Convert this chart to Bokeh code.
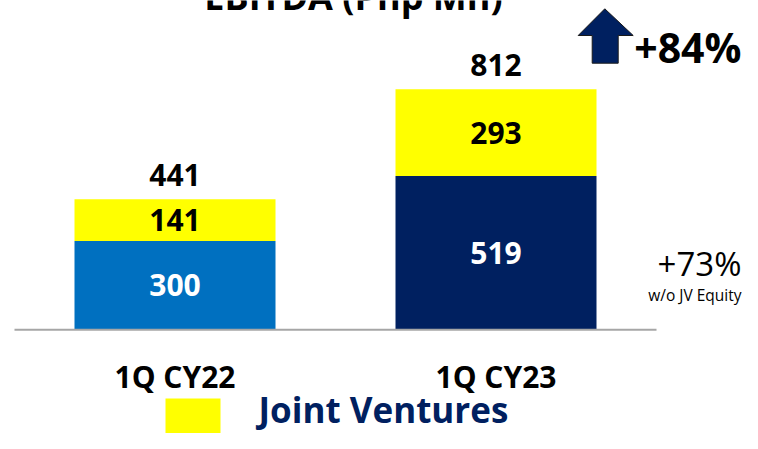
from bokeh.plotting import figure
from bokeh.models import Range1d
from bokeh.embed import file_html
from bokeh.resources import INLINE
from bokeh.core.properties import value

# ---- data ----
categories = ["1Q CY22", "1Q CY23"]
own_ebitda = [300, 519]
jv_equity = [141, 293]
totals = [441, 812]
own_colors = ["#0070C0", "#002060"]
jv_color = "#FFFF00"
title_text = "EBITDA (Php Mn)"
growth_total = "+84%"
growth_ex_jv = "+73%"
growth_ex_jv_note = "w/o JV Equity"
legend_label = "Joint Ventures"

# ---- geometry (pixel layout of the canvas) ----
W, H = 742, 433
X_PX = 321.0      # pixels per category step
X0_PX = 174.5     # pixel column of first category
Y_PX = 0.2962     # pixels per Php Mn
BASE_PX = 329.3   # pixel row of value 0
K = 0.42          # renderer baseline correction (fraction of font size)
CAP = 0.714       # cap height of the font (fraction of font size)
FONT = value("Open Sans")


def fx(px):
    return (px - X0_PX) / X_PX


def fy(py):
    return (BASE_PX - py) / Y_PX


def base_y(py, size):
    """data y that puts the alphabetic baseline at pixel row py"""
    return fy(py - K * size)


p = figure(width=W, height=H,
           x_range=Range1d(fx(0), fx(W)),
           y_range=Range1d(fy(H), fy(0)),
           output_backend="svg", toolbar_location=None,
           x_axis_location=None, y_axis_location=None,
           min_border=0, outline_line_color=None,
           background_fill_color="white", border_fill_color="white")
p.xgrid.visible = False
p.ygrid.visible = False

xs = list(range(len(categories)))
bar_w = 201 / X_PX

p.vbar(x=xs, width=bar_w, bottom=0, top=own_ebitda,
       fill_color=own_colors, line_color=None)
p.vbar(x=xs, width=bar_w, bottom=own_ebitda, top=totals,
       fill_color=jv_color, line_color=None)

# baseline
p.segment(x0=[-0.5], y0=[0], x1=[len(categories) - 0.5], y1=[0],
          line_color="#A6A6A6", line_width=2)

val_size = 30
seg_shift = ((K - CAP / 2) * val_size - 2) / Y_PX
own_mid = [o / 2 + seg_shift for o in own_ebitda]
jv_mid = [o + j / 2 + seg_shift for o, j in zip(own_ebitda, jv_equity)]
tot_y = [t + (11.5 + K * val_size) / Y_PX for t in totals]

common = dict(text_font=FONT, text_font_style="bold",
              text_font_size=f"{val_size}px",
              text_align="center", text_baseline="alphabetic")
p.text(x=xs, y=own_mid, text=[str(v) for v in own_ebitda],
       text_color="white", **common)
p.text(x=xs, y=jv_mid, text=[str(v) for v in jv_equity],
       text_color="black", **common)
p.text(x=xs, y=tot_y, text=[str(v) for v in totals],
       text_color="black", **common)

# category labels
cat_size = 30
p.text(x=xs, y=[base_y(389, cat_size)] * len(xs), text=categories,
       text_font=FONT, text_font_style="bold", text_font_size=f"{cat_size}px",
       text_align="center", text_baseline="alphabetic", text_color="black")

# title (cut off at the top as in the reference)
p.text(x=[fx(353)], y=[base_y(11.5, 36)], text=[title_text],
       text_font=FONT, text_font_style="bold", text_font_size="36px",
       text_align="center", text_baseline="alphabetic", text_color="black")

# growth arrow
arrow_x = [604.3, 632.7, 617.7, 617.7, 591.7, 591.7, 577.7]
arrow_y = [8.3, 35, 35, 62.7, 62.7, 35, 35]
p.patch(x=[fx(a) for a in arrow_x], y=[fy(b) for b in arrow_y],
        fill_color="#002060", line_color="#1a1a1a", line_width=1)

p.text(x=[fx(741)], y=[base_y(63.3, 41)], text=[growth_total],
       text_font=FONT, text_font_style="bold", text_font_size="41px",
       text_align="right", text_baseline="alphabetic", text_color="black")

p.text(x=[fx(741)], y=[base_y(276.5, 33)], text=[growth_ex_jv],
       text_font=FONT, text_font_size="33px",
       text_align="right", text_baseline="alphabetic", text_color="black")
p.text(x=[fx(741)], y=[base_y(301.5, 15.5)], text=[growth_ex_jv_note],
       text_font=FONT, text_font_size="15.5px",
       text_align="right", text_baseline="alphabetic", text_color="black")

# legend (square runs to the bottom edge as in the reference)
p.quad(left=[fx(165)], right=[fx(220)], bottom=[fy(H)], top=[fy(398)],
       fill_color=jv_color, line_color=None)
p.text(x=[fx(258)], y=[base_y(424, 35)], text=[legend_label],
       text_font=FONT, text_font_style="bold", text_font_size="35px",
       text_align="left", text_baseline="alphabetic", text_color="#002060")

open("out.html", "w").write(file_html(p, INLINE))
